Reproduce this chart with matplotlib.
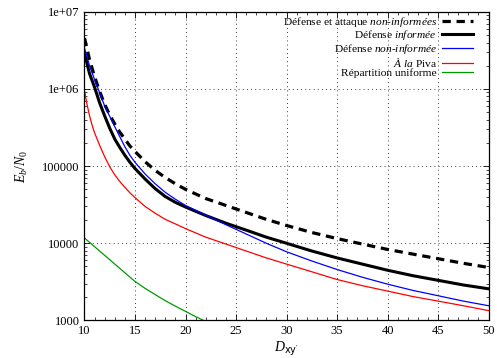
"""Eb/N0 en fonction de D_xy' : comparaison des stratégies."""
import numpy as np
import matplotlib
matplotlib.use('Agg')
import matplotlib.pyplot as plt
import matplotlib.ticker as mticker

# Données
x_nonnon = [10, 10.5, 11, 11.5, 12, 12.5, 13, 13.5, 14, 14.5, 15, 16, 17, 18, 19, 20,
            22, 24, 26, 28, 30, 32.5, 35, 37.5, 40, 42.5, 45, 47.5, 50]
y_nonnon = [4.57e6, 2.4e6, 1.44e6, 9.3e5, 6.3e5, 4.6e5, 3.5e5, 2.75e5, 2.24e5, 1.82e5,
            1.55e5, 1.14e5, 8.8e4, 7.1e4, 5.9e4, 5.0e4, 3.8e4, 3.09e4, 2.51e4, 2.04e4,
            1.70e4, 1.38e4, 1.15e4, 9770, 8320, 7240, 6310, 5500, 4860]

x_inf = [10, 10.5, 11, 11.5, 12, 12.5, 13, 13.5, 14, 14.5, 15, 16, 17, 18, 19, 20,
         22, 24, 26, 28, 30, 32.5, 35, 37.5, 40, 42.5, 45, 47.5, 50]
y_inf = [2.88e6, 1.58e6, 1.05e6, 6.6e5, 4.47e5, 3.09e5, 2.24e5, 1.74e5, 1.38e5, 1.12e5,
         9.3e4, 6.8e4, 5.1e4, 4.03e4, 3.39e4, 2.95e4, 2.29e4, 1.82e4, 1.48e4, 1.20e4,
         1.0e4, 7940, 6460, 5370, 4470, 3800, 3310, 2880, 2570]

x_noninf = [10, 10.5, 11, 11.5, 12, 12.5, 13, 13.5, 14, 14.5, 15, 16, 17, 18, 19, 20,
            22, 24, 26, 28, 30, 32.5, 35, 37.5, 40, 42.5, 45, 47.5, 50]
y_noninf = [3.39e6, 2.0e6, 1.32e6, 8.9e5, 6.0e5, 4.4e5, 3.24e5, 2.4e5, 1.78e5, 1.38e5,
            1.12e5, 7.9e4, 5.9e4, 4.57e4, 3.72e4, 3.09e4, 2.32e4, 1.74e4, 1.32e4, 1.0e4,
            7760, 5890, 4570, 3630, 2950, 2450, 2090, 1780, 1550]

x_piva = [10, 10.25, 10.5, 10.75, 11, 11.5, 12, 12.5, 13, 13.5, 14, 14.5, 15, 16, 17, 18,
          19, 20, 22, 24, 26, 28, 30, 32.5, 35, 37.5, 40, 42.5, 45, 47.5, 50]
y_piva = [9.5e5, 6.3e5, 4.5e5, 3.4e5, 2.7e5, 1.86e5, 1.32e5, 9.8e4, 7.7e4, 6.3e4, 5.3e4,
          4.5e4, 3.9e4, 3.0e4, 2.45e4, 2.04e4, 1.78e4, 1.55e4, 1.2e4, 9770, 7940, 6460,
          5370, 4270, 3390, 2820, 2400, 2040, 1780, 1550, 1340]

x_unif = [10, 11, 12, 13, 14, 15, 16, 17, 18, 19, 20, 21, 22]
y_unif = [1.17e4, 9020, 6970, 5370, 4140, 3200, 2600, 2160, 1800, 1530, 1310, 1120, 970]

labels = ['Défense et attaque $\\mathit{non}$-$\\mathit{informées}$',
          'Défense $\\mathit{informée}$',
          'Défense $\\mathit{non}$-$\\mathit{informée}$',
          '$\\mathit{À\\ la}$ Piva',
          'Répartition uniforme']

plt.rcParams.update({'font.family': 'Liberation Serif', 'font.size': 9,
                     'mathtext.fontset': 'custom',
                     'mathtext.rm': 'Liberation Serif',
                     'mathtext.it': 'Liberation Serif:italic',
                     'mathtext.bf': 'Liberation Serif:bold',
                     'mathtext.sf': 'DejaVu Sans'})

fig = plt.figure(figsize=(4.97, 3.58), dpi=100)
ax = fig.add_axes([0.170, 0.105, 0.813, 0.862])

ax.plot(x_nonnon, y_nonnon, color='black', lw=2.3, ls=(0, (2.6, 1.8)), label=labels[0])
ax.plot(x_inf, y_inf, color='black', lw=2.2, label=labels[1])
ax.plot(x_noninf, y_noninf, color='#0000ff', lw=0.9, label=labels[2])
ax.plot(x_piva, y_piva, color='#ff0000', lw=0.9, label=labels[3])
ax.plot(x_unif, y_unif, color='#009a00', lw=0.9, label=labels[4])

ax.set_yscale('log')
ax.set_xlim(10, 50)
ax.set_ylim(1000, 1e7)
ax.set_xticks(np.arange(10, 51, 5))
ax.xaxis.set_minor_locator(mticker.MultipleLocator(1))
ax.set_yticks([1000, 10000, 100000, 1e6, 1e7])
ax.set_yticklabels(['1000', '10000', '100000', '1e+06', '1e+07'])
ax.yaxis.set_minor_locator(mticker.LogLocator(base=10, subs=np.arange(2, 10)))
ax.yaxis.set_minor_formatter(mticker.NullFormatter())

ax.tick_params(which='both', direction='in', top=True, right=True, labelsize=9)
ax.tick_params(which='major', length=4, width=0.6)
ax.tick_params(which='minor', length=2, width=0.5)
for s in ax.spines.values():
    s.set_linewidth(0.9)

ax.grid(True, which='major', color='black', ls=(0, (1, 4)), lw=0.6)

ax.set_xlabel("$D_{\\mathsf{xy}^{\\prime}}$", fontsize=10, labelpad=2)
ax.set_ylabel('$E_b/N_0$', fontsize=10, labelpad=9)

leg = ax.legend(loc='upper right', bbox_to_anchor=(0.962, 0.99), borderaxespad=0,
                borderpad=0, frameon=False, markerfirst=False, fontsize=8.2,
                handlelength=2.7, handletextpad=0.5, labelspacing=-0.04,
                alignment='right')
for t in leg.get_texts():
    t.set_ha('right')

fig.savefig('out.png', dpi=100)
